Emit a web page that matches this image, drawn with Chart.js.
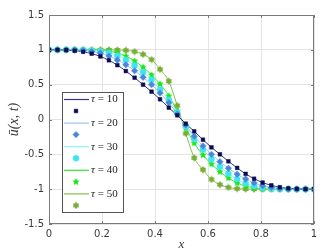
<!DOCTYPE html>
<html>
<head>
<meta charset="utf-8">
<script src="https://cdn.jsdelivr.net/npm/chart.js@4/dist/chart.umd.min.js"></script>
<style>
html,body{margin:0;padding:0;background:#fff}
#wrap{width:332px;height:252px}
</style>
</head>
<body>
<div id="wrap"><canvas id="c" width="332" height="252"></canvas></div>
<script>
// grid points x_i (32 points across [0,1])
const xs = [0, 0.032, 0.065, 0.097, 0.129, 0.161, 0.194, 0.226, 0.258, 0.290, 0.323, 0.355,
	0.387, 0.419, 0.452, 0.484, 0.516, 0.548, 0.581, 0.613, 0.645, 0.677, 0.710, 0.742,
	0.774, 0.806, 0.839, 0.871, 0.903, 0.935, 0.968, 1];

const taus = ['10', '20', '30', '40', '50'];

const u10 = [1, 1, 0.996, 0.988, 0.972, 0.945, 0.905, 0.85, 0.78, 0.695, 0.60, 0.50, 0.40, 0.29, 0.17, 0.06,
	-0.06, -0.17, -0.29, -0.40, -0.50, -0.60, -0.695, -0.78, -0.85, -0.905, -0.945, -0.972, -0.988, -0.996, -1, -1];
const u20 = [1, 1, 1, 0.997, 0.99, 0.975, 0.95, 0.91, 0.855, 0.785, 0.70, 0.605, 0.50, 0.38, 0.24, 0.08,
	-0.08, -0.24, -0.38, -0.50, -0.605, -0.70, -0.785, -0.855, -0.91, -0.95, -0.975, -0.99, -0.997, -1, -1, -1];
const u30 = [1, 1, 1, 1, 0.997, 0.99, 0.978, 0.955, 0.915, 0.855, 0.775, 0.68, 0.57, 0.43, 0.28, 0.10,
	-0.10, -0.28, -0.43, -0.57, -0.68, -0.775, -0.855, -0.915, -0.955, -0.978, -0.99, -0.997, -1, -1, -1, -1];
const u40 = [1, 1, 1, 1, 1, 0.998, 0.993, 0.98, 0.955, 0.91, 0.84, 0.75, 0.64, 0.51, 0.34, 0.12,
	-0.12, -0.34, -0.51, -0.64, -0.75, -0.84, -0.91, -0.955, -0.98, -0.993, -0.998, -1, -1, -1, -1, -1];
const u50 = [1, 1, 1, 1, 1, 1, 1, 1, 0.998, 0.993, 0.975, 0.935, 0.86, 0.72, 0.55, 0.20,
	-0.20, -0.55, -0.72, -0.86, -0.935, -0.975, -0.993, -0.998, -1, -1, -1, -1, -1, -1, -1, -1];

const xTicks = [0, 0.2, 0.4, 0.6, 0.8, 1];
const yTicks = [-1.5, -1, -0.5, 0, 0.5, 1, 1.5];

const series = [u10, u20, u30, u40, u50];
const lineCols = ['#3a3484', '#9cc5ee', '#8cf2f6', '#2fe82f', '#84bd4a'];
const markCols = ['#0b0b52', '#4a87da', '#3ee4f2', '#1de61d', '#78ad36'];

// star / hexagram markers
function starMark(n, col, size){
	var c = document.createElement('canvas');
	c.width = c.height = size;
	var g = c.getContext('2d'), r = size/2, ri = r*(n==5 ? 0.48 : 0.6);
	g.beginPath();
	for(var k=0;k<2*n;k++){
		var a = -Math.PI/2 + k*Math.PI/n, rr = (k%2) ? ri : r-0.3;
		g.lineTo(r+rr*Math.cos(a), r+rr*Math.sin(a));
	}
	g.closePath();
	g.fillStyle = col;
	g.fill();
	return c;
}
const styles = ['rect', 'rectRot', 'circle', starMark(5, markCols[3], 8), starMark(6, markCols[4], 8)];
const radii = [2.6, 3.2, 3, 4, 4];

const pts = (arr) => arr.map((v,i) => ({x: xs[i], y: v}));

var datasets = [];
series.forEach(function(s,k){
	datasets.push({label:'τ = '+taus[k], data:pts(s), borderColor:lineCols[k], borderWidth:1,
		pointRadius:0, cubicInterpolationMode:'monotone', fill:false, order:1});
	datasets.push({label:'', data:pts(s), showLine:false, pointStyle:styles[k], pointRadius:radii[k],
		backgroundColor:markCols[k], borderColor:markCols[k], borderWidth:0.5, order:0});
});

// legend, frame and inward ticks
const decor = {
	id:'decor',
	afterDraw(chart){
		var ctx = chart.ctx, a = chart.chartArea, sx = chart.scales.x, sy = chart.scales.y;
		ctx.save();
		ctx.strokeStyle = '#7a7a7a';
		ctx.lineWidth = 1;
		ctx.beginPath();
		xTicks.forEach(function(t){
			var p = Math.round(sx.getPixelForValue(t))+0.5;
			ctx.moveTo(p,a.bottom); ctx.lineTo(p,a.bottom-3);
			ctx.moveTo(p,a.top); ctx.lineTo(p,a.top+3);
		});
		yTicks.forEach(function(t){
			var p = Math.round(sy.getPixelForValue(t))+0.5;
			ctx.moveTo(a.left,p); ctx.lineTo(a.left+3,p);
			ctx.moveTo(a.right,p); ctx.lineTo(a.right-3,p);
		});
		ctx.stroke();
		ctx.strokeRect(Math.round(a.left)+0.5, Math.round(a.top)+0.5, Math.round(a.right-a.left)-1, Math.round(a.bottom-a.top)-1);

		// legend box
		var bx = 62.5, by = 92.5, bw = 61, bh = 120;
		ctx.fillStyle = '#fff';
		ctx.fillRect(bx,by,bw,bh);
		ctx.strokeStyle = '#555';
		ctx.strokeRect(bx,by,bw,bh);
		ctx.textBaseline = 'middle';
		taus.forEach(function(t,k){
			var yl = 99.5 + k*23.6, ym = yl + 11.5;
			ctx.strokeStyle = lineCols[k];
			ctx.lineWidth = 1.2;
			ctx.beginPath(); ctx.moveTo(64,yl); ctx.lineTo(89,yl); ctx.stroke();
			ctx.fillStyle = '#222';
			ctx.font = 'italic 11px "Liberation Serif"';
			ctx.fillText('τ', 91, yl);
			var w = ctx.measureText('τ').width;
			ctx.font = '11px "Liberation Serif"';
			ctx.fillText(' = '+t, 91+w, yl);
			ctx.fillStyle = markCols[k];
			ctx.strokeStyle = markCols[k];
			ctx.lineWidth = 0.5;
			Chart.helpers.drawPoint(ctx, {pointStyle:styles[k], radius:radii[k], borderWidth:0.5}, 76, ym);
		});
		ctx.restore();
	}
};

new Chart(document.getElementById('c'), {
	type:'line',
	data:{datasets:datasets},
	plugins:[decor],
	options:{
		responsive:false,
		animation:false,
		events:[],
		layout:{padding:{left:0, top:15, right:18, bottom:0}},
		plugins:{legend:{display:false}, tooltip:{enabled:false}},
		scales:{
			x:{
				type:'linear', min:0, max:1,
				afterBuildTicks(s){ s.ticks = xTicks.map(v => ({value:v})); },
				afterFit(s){ s.height = 28; },
				grid:{color:'#e4e4e4', drawTicks:false},
				border:{display:false},
				ticks:{padding:4, color:'#3a3a3a', font:{family:'DejaVu Sans', size:10}, maxRotation:0,
					callback:(v) => String(v)},
				title:{display:true, text:'x', color:'#3a3a3a', padding:{top:4, bottom:0},
					font:{family:'Liberation Serif', style:'italic', size:13}}
			},
			y:{
				type:'linear', min:-1.5, max:1.5,
				afterBuildTicks(s){ s.ticks = yTicks.map(v => ({value:v})); },
				afterFit(s){ s.width = 49; },
				grid:{color:'#e4e4e4', drawTicks:false},
				border:{display:false},
				ticks:{padding:5, color:'#3a3a3a', font:{family:'DejaVu Sans', size:10},
					callback:(v) => String(v)},
				title:{display:true, text:'ū(x, t)', color:'#3a3a3a', padding:{top:6, bottom:0},
					font:{family:'Liberation Serif', style:'italic', size:14}}
			}
		}
	}
});
</script>
</body>
</html>
